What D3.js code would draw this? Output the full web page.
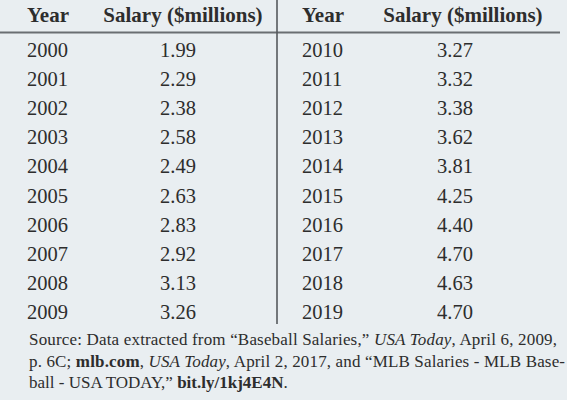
<!DOCTYPE html>
<html>
<head>
<meta charset="utf-8">
<script src="https://cdn.jsdelivr.net/npm/d3@7"></script>
<style>
  html, body { margin: 0; padding: 0; background: #e9eef1; }
  svg { display: block; }
</style>
</head>
<body>
<div id="viz"></div>
<script>
// table data
var yearsLeft = [2000, 2001, 2002, 2003, 2004, 2005, 2006, 2007, 2008, 2009];
var salaryLeft = [1.99, 2.29, 2.38, 2.58, 2.49, 2.63, 2.83, 2.92, 3.13, 3.26];
var yearsRight = [2010, 2011, 2012, 2013, 2014, 2015, 2016, 2017, 2018, 2019];
var salaryRight = [3.27, 3.32, 3.38, 3.62, 3.81, 4.25, 4.40, 4.70, 4.63, 4.70];
var headers = ["Year", "Salary ($millions)"];

// source note, one array per line: [text, style]
var sourceLine1 = [["Source: Data extracted from \u201cBaseball Salaries,\u201d ", "n"], ["USA Today", "i"], [", April 6, 2009,", "n"]];
var sourceLine2 = [["p. 6C; ", "n"], ["mlb.com", "b"], [", ", "n"], ["USA Today", "i"], [", April 2, 2017, and \u201cMLB Salaries - MLB Base-", "n"]];
var sourceLine3 = [["ball - USA TODAY,\u201d ", "n"], ["bit.ly/1kj4E4N", "b"], [".", "n"]];

var W = 567, H = 400;
var ink = "#2d2d2d";
var font = "'Times New Roman', Times, 'Liberation Serif', serif";

var svg = d3.select("#viz").append("svg")
    .attr("width", W)
    .attr("height", H);

// row positions (baselines)
var y = d3.scaleLinear()
    .domain([0, 9])
    .range([57, 319]);

// column anchors: year left edge, salary centre, per half
var halves = [
    {years: yearsLeft, vals: salaryLeft, yearX: 27, valX: 178, headX: 183},
    {years: yearsRight, vals: salaryRight, yearX: 302, valX: 455, headX: 463}
];

// header rule and divider
svg.append("line")
    .attr("x1", 0).attr("x2", 560)
    .attr("y1", 32.5).attr("y2", 32.5)
    .style("stroke", "#6a6e72")
    .style("stroke-width", 2);

svg.append("line")
    .attr("x1", 277).attr("x2", 277)
    .attr("y1", 0).attr("y2", 324)
    .style("stroke", "#55595d")
    .style("stroke-width", 1.6);

halves.forEach(function(h) {
    var g = svg.append("g");

    g.append("text")
        .attr("x", h.yearX).attr("y", 22)
        .attr("font-family", font).attr("font-size", "21px")
        .attr("font-weight", "bold").attr("fill", ink)
        .text(headers[0]);

    g.append("text")
        .attr("x", h.headX).attr("y", 22)
        .attr("text-anchor", "middle")
        .attr("font-family", font).attr("font-size", "21px")
        .attr("font-weight", "bold").attr("fill", ink)
        .text(headers[1]);

    g.selectAll("text.yr")
        .data(h.years)
        .enter()
        .append("text")
        .attr("class", "yr")
        .attr("x", h.yearX)
        .attr("y", function(d, i) { return y(i); })
        .attr("font-family", font).attr("font-size", "20.5px")
        .attr("fill", ink)
        .text(function(d) { return d; });

    g.selectAll("text.val")
        .data(h.vals)
        .enter()
        .append("text")
        .attr("class", "val")
        .attr("x", h.valX)
        .attr("y", function(d, i) { return y(i); })
        .attr("text-anchor", "middle")
        .attr("font-family", font).attr("font-size", "20.5px")
        .attr("fill", ink)
        .text(function(d) { return d3.format(".2f")(d); });
});

// source note
var lines = [
    {parts: sourceLine1, y: 345, len: 528},
    {parts: sourceLine2, y: 367, len: 536},
    {parts: sourceLine3, y: 388, len: null}
];

lines.forEach(function(l) {
    var t = svg.append("text")
        .attr("x", 29).attr("y", l.y)
        .attr("font-family", font).attr("font-size", "17px")
        .attr("fill", ink);
    if (l.len) t.attr("textLength", l.len).attr("lengthAdjust", "spacing");
    t.selectAll("tspan")
        .data(l.parts)
        .enter()
        .append("tspan")
        .attr("font-style", function(d) { return d[1] == "i" ? "italic" : null; })
        .attr("font-weight", function(d) { return d[1] == "b" ? "bold" : null; })
        .text(function(d) { return d[0]; });
});
</script>
</body>
</html>
